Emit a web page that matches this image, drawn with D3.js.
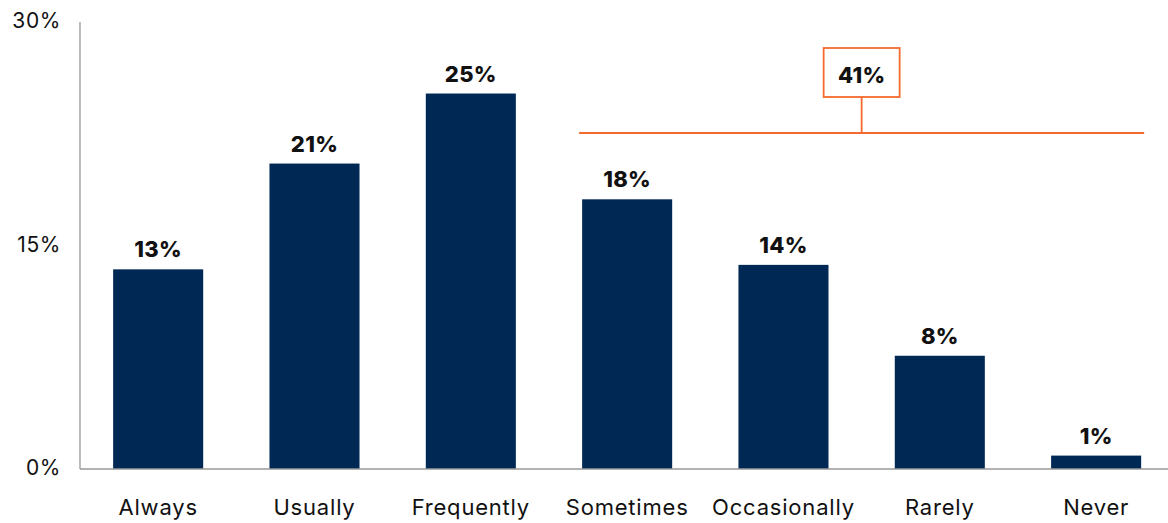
<!DOCTYPE html>
<html><head><meta charset="utf-8">
<script src="https://cdn.jsdelivr.net/npm/d3@7"></script>
<style>body{margin:0;background:#fff}svg{display:block}</style>
</head><body>
<svg id="c" width="1168" height="523"></svg>
<script>
const categories = ["Always","Usually","Frequently","Sometimes","Occasionally","Rarely","Never"];
const values = [13.4, 20.5, 25.2, 18.1, 13.7, 7.6, 0.9];
const labels = ["13%","21%","25%","18%","14%","8%","1%"];
const yTicks = [0, 15, 30];
const bracketFrom = "Sometimes", bracketTo = "Never";
const bracketValue = 22.55, bracketLabel = "41%";

const svg = d3.select("#c");
const font = "Inter, 'Open Sans', sans-serif";
const x = d3.scaleBand().domain(categories).range([80, 1174.3]).paddingInner(0.424).paddingOuter(0.212);
const y = d3.scaleLinear().domain([0, 30]).range([469, 22]);
const navy = "#002855", orange = "#F4692E";

// y axis
svg.append("line").attr("x1", 80).attr("x2", 80).attr("y1", y(30)).attr("y2", y(0)).attr("stroke", "#999").attr("stroke-width", 1.3);
svg.selectAll(".yt").data(yTicks).join("text")
  .attr("x", 61).attr("y", d => y(d)).attr("dy", "0.3em").attr("text-anchor", "end")
  .attr("font-family", font).attr("font-size", 21).attr("letter-spacing", 0.6).attr("fill", "#111")
  .text(d => d + "%");

// bars
svg.selectAll(".bar").data(values).join("rect")
  .attr("x", (d, i) => x(categories[i])).attr("width", x.bandwidth())
  .attr("y", d => y(d)).attr("height", d => y(0) - y(d)).attr("fill", navy);

// baseline
svg.append("line").attr("x1", 80).attr("x2", 1168).attr("y1", y(0)).attr("y2", y(0)).attr("stroke", "#999").attr("stroke-width", 1.3);

// value labels
svg.selectAll(".vl").data(values).join("text")
  .attr("x", (d, i) => x(categories[i]) + x.bandwidth() / 2).attr("y", d => y(d) - 12)
  .attr("text-anchor", "middle").attr("font-family", font).attr("font-weight", 800)
  .attr("font-size", 22).attr("letter-spacing", 0.3).attr("fill", "#111").text((d, i) => labels[i]);

// category labels
svg.selectAll(".cl").data(categories).join("text")
  .attr("x", d => x(d) + x.bandwidth() / 2).attr("y", 515)
  .attr("text-anchor", "middle").attr("font-family", font)
  .attr("font-size", 22).attr("letter-spacing", 0.8).attr("fill", "#111").text(d => d);

// bracket annotation
const bx1 = x(bracketFrom) - 3, bx2 = x(bracketTo) + x.bandwidth() + 3, by = y(bracketValue);
const bmid = (bx1 + bx2) / 2;
svg.append("line").attr("x1", bx1).attr("x2", bx2).attr("y1", by).attr("y2", by).attr("stroke", orange).attr("stroke-width", 1.8);
svg.append("line").attr("x1", bmid).attr("x2", bmid).attr("y1", by).attr("y2", 97).attr("stroke", orange).attr("stroke-width", 1.8);
svg.append("rect").attr("x", bmid - 38).attr("y", 48).attr("width", 76).attr("height", 49).attr("fill", "#fff").attr("stroke", orange).attr("stroke-width", 1.8);
svg.append("text").attr("x", bmid).attr("y", 75).attr("dy", "0.35em").attr("text-anchor", "middle")
  .attr("font-family", font).attr("font-weight", 800).attr("font-size", 22).attr("letter-spacing", 0.3).attr("fill", "#111").text(bracketLabel);
</script>
</body></html>
